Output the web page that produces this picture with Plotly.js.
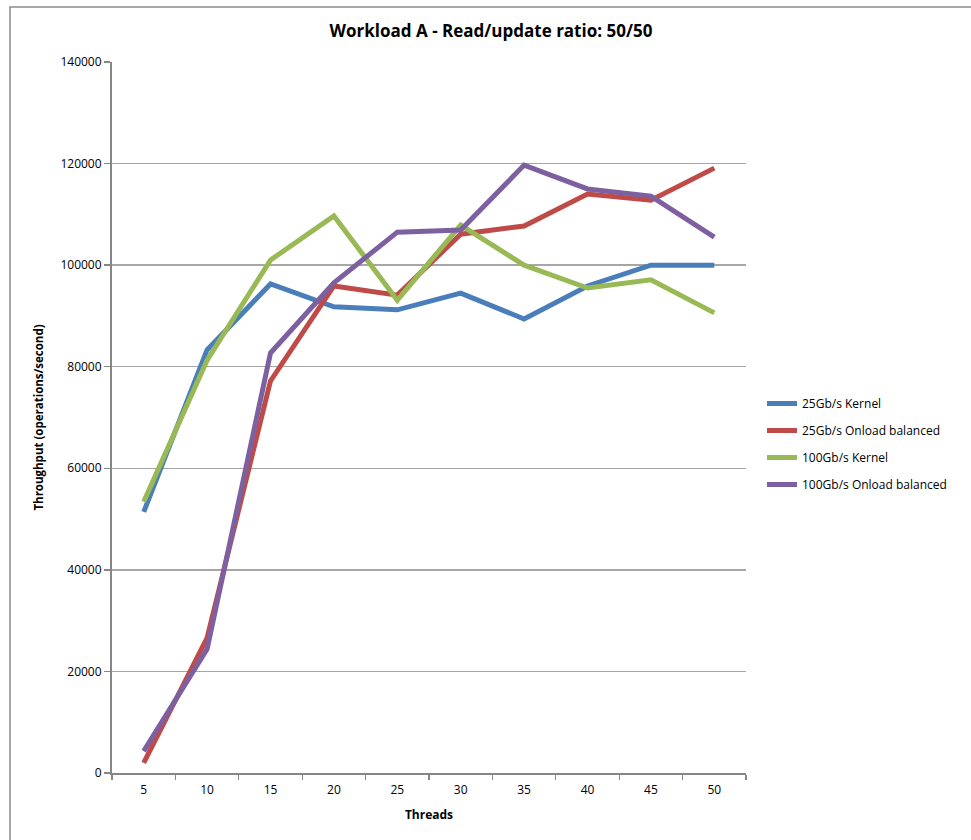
<!DOCTYPE html>
<html>
<head>
<meta charset="utf-8">
<script src="https://cdn.plot.ly/plotly-3.0.1.min.js"></script>
<style>
  html, body { margin: 0; padding: 0; background: #fff; }
  #chart { width: 971px; height: 840px; }
</style>
</head>
<body>
<div id="chart"></div>
<script>
const threads = ["5", "10", "15", "20", "25", "30", "35", "40", "45", "50"];
const seriesNames = ["25Gb/s Kernel", "25Gb/s Onload balanced", "100Gb/s Kernel", "100Gb/s Onload balanced"];
const kernel25 = [51400, 83300, 96300, 91800, 91200, 94500, 89400, 95900, 100000, 100000];
const onload25 = [2000, 26600, 77200, 95900, 94100, 106100, 107700, 114000, 112800, 119100];
const kernel100 = [53400, 81300, 101000, 109700, 93100, 107900, 100000, 95500, 97100, 90600];
const onload100 = [4300, 24400, 82700, 96500, 106500, 106900, 119700, 115000, 113600, 105500];
const seriesValues = [kernel25, onload25, kernel100, onload100];
const colors = ["#4A7EBB", "#BE4B48", "#98B954", "#7D60A0"];

const FONT = "Open Sans, Liberation Sans, sans-serif";

const traces = seriesValues.map((vals, i) => ({
  type: "scatter",
  mode: "lines",
  x: threads,
  y: vals,
  name: seriesNames[i],
  legendgroup: "g" + i,
  line: { color: colors[i], width: 5 }
}));

const L = 112, R = 971 - 746, T = 62, B = 840 - 773;
const pw = 971 - L - R, ph = 840 - T - B;
const px = v => (v - L) / pw;
const py = v => (840 - B - v) / ph;

const layout = {
  width: 971,
  height: 840,
  paper_bgcolor: "#ffffff",
  plot_bgcolor: "#ffffff",
  margin: { l: L, r: R, t: T, b: B, pad: 0 },
  font: { family: FONT, size: 12, color: "#000" },
  title: {
    text: "<b>Workload A - Read/update ratio: 50/50</b>",
    font: { family: FONT, size: 17, color: "#000" },
    x: px(491), xanchor: "center", xref: "paper",
    y: 1 - 31 / 840, yanchor: "middle"
  },
  showlegend: true,
  legend: {
    x: px(762), xanchor: "left",
    y: py(444), yanchor: "middle",
    font: { family: FONT, size: 12, color: "#000" },
    traceorder: "grouped",
    tracegroupgap: 8,
    bgcolor: "rgba(0,0,0,0)",
    borderwidth: 0
  },
  xaxis: {
    type: "category",
    range: [-0.5, threads.length - 0.5],
    tickson: "boundaries",
    ticks: "outside",
    ticklen: 5,
    tickcolor: "#868686",
    tickwidth: 1.3,
    ticklabelstandoff: 5,
    showline: true,
    linecolor: "#868686",
    linewidth: 2,
    showgrid: false,
    zeroline: false,
    tickfont: { family: FONT, size: 12, color: "#000" },
    title: { text: "<b>Threads</b>", font: { family: FONT, size: 12, color: "#000" }, standoff: 13 },
    automargin: false,
    fixedrange: true
  },
  yaxis: {
    range: [0, 140000],
    dtick: 20000,
    tick0: 0,
    tickformat: "d",
    ticks: "outside",
    ticklen: 6,
    tickcolor: "#868686",
    tickwidth: 1.3,
    showline: true,
    linecolor: "#868686",
    linewidth: 2,
    showgrid: true,
    gridcolor: "#A6A6A6",
    gridwidth: 1.3,
    zeroline: false,
    tickfont: { family: FONT, size: 12, color: "#000" },
    title: { text: "<b>Throughput (operations/second)</b>", font: { family: FONT, size: 11.5, color: "#000" }, standoff: 14 },
    automargin: false,
    fixedrange: true
  },
  shapes: [{
    type: "rect", xref: "paper", yref: "paper",
    x0: px(10), x1: px(990), y0: py(860), y1: py(7),
    line: { color: "#8C8C8C", width: 1.5 },
    fillcolor: "rgba(0,0,0,0)",
    layer: "below"
  }]
};

Plotly.newPlot("chart", traces, layout, { displayModeBar: false, staticPlot: true });
</script>
</body>
</html>
